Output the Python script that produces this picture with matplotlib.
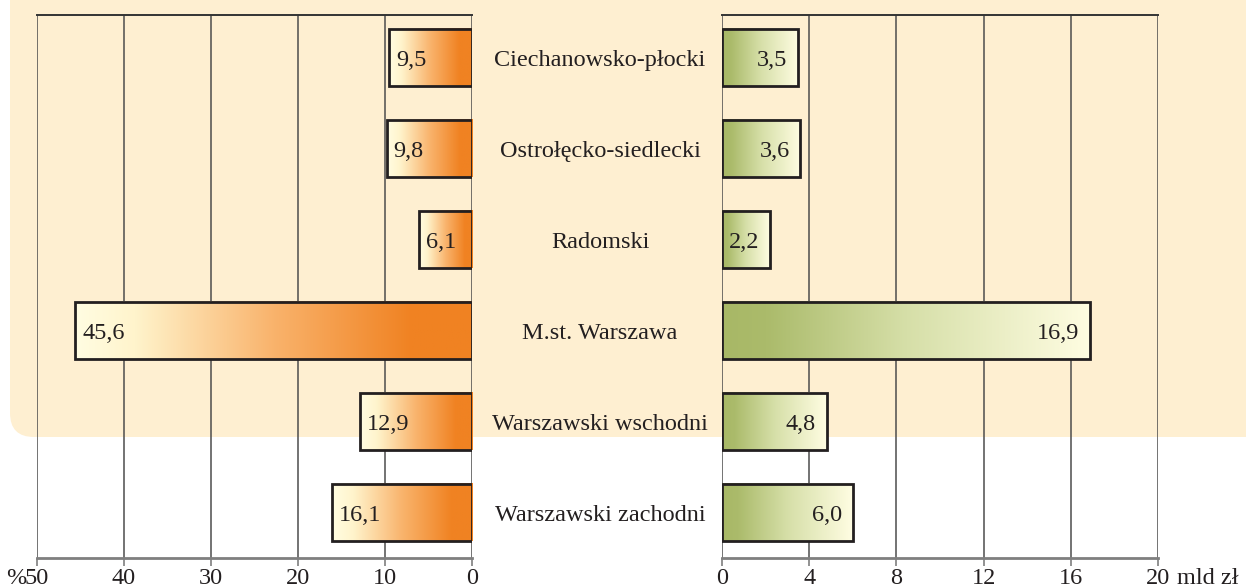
import numpy as np
import matplotlib
matplotlib.use("Agg")
from matplotlib import pyplot as plt
from matplotlib.colors import LinearSegmentedColormap
from matplotlib.patches import FancyBboxPatch, Rectangle
from matplotlib.transforms import blended_transform_factory

# data
regions = ['Ciechanowsko-płocki', 'Ostrołęcko-siedlecki', 'Radomski',
           'M.st. Warszawa', 'Warszawski wschodni', 'Warszawski zachodni']
share_pct = [9.5, 9.8, 6.1, 45.6, 12.9, 16.1]
value_bn = [3.5, 3.6, 2.2, 16.9, 4.8, 6.0]
left_ticks = [50, 40, 30, 20, 10, 0]
right_ticks = [0, 4, 8, 12, 16, 20]

plt.rcParams['font.family'] = ['Liberation Serif', 'DejaVu Serif']
TXT = '#231f20'
FS = 17.5

orange = LinearSegmentedColormap.from_list('orange', [
    (0.0, '#fffde2'), (0.15, '#fff4cc'), (0.5, '#f9b36c'),
    (0.85, '#f08222'), (1.0, '#f08222')])
green = LinearSegmentedColormap.from_list('green', [
    (0.0, '#a8b866'), (0.12, '#abbb6b'), (0.5, '#d6dfa8'),
    (1.0, '#fffde2')])

fig = plt.figure(figsize=(12.46, 5.88), dpi=100)

# rounded beige background, in pixel units
bg = fig.add_axes([0, 0, 1, 1], zorder=-5)
bg.set_xlim(0, 1246)
bg.set_ylim(588, 0)
bg.axis('off')
bg.add_patch(FancyBboxPatch((10, -60), 1320, 497,
                            boxstyle='round,pad=0,rounding_size=24',
                            facecolor='#feefd1', edgecolor='none'))

axl = fig.add_axes([37 / 1246, 1 - 558 / 588, 435 / 1246, 543 / 588])
axr = fig.add_axes([722 / 1246, 1 - 558 / 588, 436 / 1246, 543 / 588])

grad = np.linspace(0, 1, 256).reshape(1, -1)
h = 0.63
dy = 0.035  # text sits a little lower than the bar centre


def style(ax, ticks):
    ax.set_facecolor('none')
    ax.set_ylim(len(regions) - 0.5, -0.47)
    ax.set_yticks([])
    ax.set_xticks(ticks)
    ax.set_xticklabels([str(t) for t in ticks], fontsize=FS, color=TXT)
    for t in ticks:
        ax.axvline(t, color='#4d4d4d', lw=1.1, zorder=0)
    ax.spines['left'].set_visible(False)
    ax.spines['right'].set_visible(False)
    ax.spines['top'].set_color('#333333')
    ax.spines['top'].set_linewidth(1.4)
    ax.spines['bottom'].set_color('#7f7f7f')
    ax.spines['bottom'].set_linewidth(2)
    ax.tick_params(axis='x', direction='out', length=6, width=1.2,
                   color='#7f7f7f', pad=1)


# left panel: percent shares
for i, v in enumerate(share_pct):
    axl.imshow(grad, cmap=orange, aspect='auto', zorder=2,
               extent=(v, 0, i + h / 2, i - h / 2))
    axl.add_patch(Rectangle((0, i - h / 2), v, h, facecolor='none',
                            edgecolor='#231f20', lw=2, zorder=3))
    axl.text(v - 0.8, i + dy, f'{v:.1f}'.replace('.', ','), ha='left',
             va='center', fontsize=FS, color=TXT, zorder=4)
axl.set_xlim(50, 0)
style(axl, left_ticks)

# right panel: billions PLN
for i, v in enumerate(value_bn):
    axr.imshow(grad, cmap=green, aspect='auto', zorder=2,
               extent=(0, v, i + h / 2, i - h / 2))
    axr.add_patch(Rectangle((0, i - h / 2), v, h, facecolor='none',
                            edgecolor='#231f20', lw=2, zorder=3))
    axr.text(v - 0.5, i + dy, f'{v:.1f}'.replace('.', ','), ha='right',
             va='center', fontsize=FS, color=TXT, zorder=4)
axr.set_xlim(0, 20)
style(axr, right_ticks)

# unit labels next to the end ticks
tl = blended_transform_factory(axl.transData, axl.transAxes)
axl.annotate('%', xy=(50, 0), xycoords=tl, xytext=(-8, -7),
             textcoords='offset points', ha='right', va='top',
             fontsize=FS, color=TXT)
tr = blended_transform_factory(axr.transData, axr.transAxes)
axr.annotate('mld zł', xy=(20, 0), xycoords=tr, xytext=(14, -7),
             textcoords='offset points', ha='left', va='top',
             fontsize=FS, color=TXT)

# region names between the panels
for i, name in enumerate(regions):
    y = axl.transData.transform((0, i + dy))[1]
    fig.text(600 / 1246, y / fig.bbox.height, name, ha='center',
             va='center', fontsize=FS, color=TXT)

fig.savefig('out.png', dpi=100)
